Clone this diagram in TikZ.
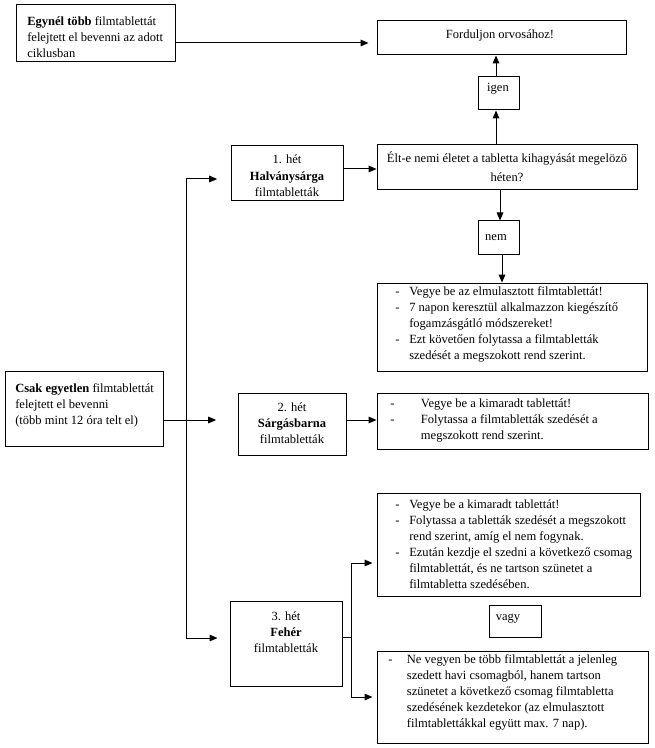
\documentclass[tikz,border=0pt]{standalone}
\usepackage{fontspec}
\setmainfont{Liberation Serif}
\usetikzlibrary{arrows.meta,fit}
\begin{document}
\begin{tikzpicture}[x=0.75pt,y=-0.75pt,
  box/.style={draw, line width=0.75pt, inner sep=0pt},
  txt/.style={inner sep=0pt, font=\fontsize{9.4}{12}\selectfont, align=center},
  ltxt/.style={txt, align=left, anchor=west},
  arr/.style={line width=0.75pt, -{Triangle[length=6pt,width=5pt]}},
  ln/.style={line width=0.75pt}]
\useasboundingbox (0,0) rectangle (655,748);
% boxes
\node[box, fit={(16,5)(175,62)}] (a) {};
\node[box, fit={(377,21)(626,55)}] (f) {};
\node[box, fit={(478,77)(519,110)}] (ig) {};
\node[box, fit={(377,145)(637,190)}] (q) {};
\node[box, fit={(231,146)(343,201)}] (w1) {};
\node[box, fit={(478,221)(519,255)}] (nm) {};
\node[box, fit={(377,283)(647,371)}] (b1) {};
\node[box, fit={(5,371)(163,446)}] (c) {};
\node[box, fit={(238,393)(346,455)}] (w2) {};
\node[box, fit={(377,393)(648,449)}] (b2) {};
\node[box, fit={(377,493)(640,596)}] (b3) {};
\node[box, fit={(230,601)(342,686)}] (w3) {};
\node[box, fit={(489,605)(541,637)}] (vg) {};
\node[box, fit={(377,651)(648,743)}] (b4) {};
% texts
\node[ltxt] (at) at (27,37) {\textbf{Egynél több} filmtablettát\\felejtett el bevenni az adott\\ciklusban};
\node[txt] (ft) at (500,35) {Forduljon orvosához!};
\node[txt] (igt) at (498,89) {igen};
\node[txt, font=\fontsize{9.4}{14}\selectfont] (qt) at (507,167) {Élt-e nemi életet a tabletta kihagyását megelözö\\héten?};
\node[txt, font=\fontsize{9.4}{12.5}\selectfont] (w1t) at (287,176) {1. hét\\\textbf{Halványsárga}\\filmtabletták};
\node[txt] (nmt) at (496,238) {nem};
\node[ltxt] (b1t) at (395,324) {\begin{tabular}{@{}p{10.5pt}@{}l@{}}
-&Vegye be az elmulasztott filmtablettát!\\
-&7 napon keresztül alkalmazzon kiegészítő\\
&fogamzásgátló módszereket!\\
-&Ezt követően folytassa a filmtabletták\\
&szedését a megszokott rend szerint.
\end{tabular}};
\node[ltxt] (ct) at (15,405) {\textbf{Csak egyetlen} filmtablettát\\felejtett el bevenni\\(több mint 12 óra telt el)};
\node[txt] (w2t) at (292,423) {2. hét\\\textbf{Sárgásbarna}\\filmtabletták};
\node[ltxt] (b2t) at (390,420) {\begin{tabular}{@{}p{23pt}@{}l@{}}
-&Vegye be a kimaradt tablettát!\\
-&Folytassa a filmtabletták szedését a\\
&megszokott rend szerint.
\end{tabular}};
\node[ltxt] (b3t) at (395,545) {\begin{tabular}{@{}p{10.5pt}@{}l@{}}
-&Vegye be a kimaradt tablettát!\\
-&Folytassa a tabletták szedését a megszokott\\
&rend szerint, amíg el nem fogynak.\\
-&Ezután kezdje el szedni a következő csomag\\
&filmtablettát, és ne tartson szünetet a\\
&filmtabletta szedésében.
\end{tabular}};
\node[txt] (w3t) at (286,632) {3. hét\\\textbf{Fehér}\\filmtabletták};
\node[txt] (vgt) at (508,619) {vagy};
\node[ltxt] (b4t) at (388,692) {\begin{tabular}{@{}p{14pt}@{}l@{}}
-&Ne vegyen be több filmtablettát a jelenleg\\
&szedett havi csomagból, hanem tartson\\
&szünetet a következő csomag filmtabletta\\
&szedésének kezdetekor (az elmulasztott\\
&filmtablettákkal együtt max. 7 nap).
\end{tabular}};
% helper coordinates
\coordinate (ya) at (0,43);
\coordinate (xq) at (496,0);
\coordinate (xn) at (500,0);
\coordinate (xb) at (502,0);
\coordinate (y1) at (0,169);
\coordinate (yc) at (0,420);
\coordinate (vt) at (186,179);
\coordinate (vb) at (186,638);
\coordinate (br) at (351,637);
\coordinate (bt) at (351,563);
\coordinate (bb) at (351,697);
% connectors
\draw[arr, shorten >=6pt] (a.east |- ya) -- (f.west |- ya);
\draw[arr] (xq |- q.north) -- (xq |- ig.south);
\draw[arr] (xq |- ig.north) -- (xq |- f.south);
\draw[arr] (w1.east |- y1) -- (q.west |- y1);
\draw[arr] (xn |- q.south) -- (xn |- nm.north);
\draw[arr] (xb |- nm.south) -- (xb |- b1.north);
\draw[ln] (vt) -- (vb);
\draw[arr, shorten >=10pt] (vt) -- (vt -| w1.west);
\draw[arr, shorten >=9pt] (vb) -- (vb -| w3.west);
\draw[arr, shorten >=16pt] (c.east |- yc) -- (w2.west |- yc);
\draw[arr] (w2.east |- yc) -- (b2.west |- yc);
\draw[ln] (w3.east |- br) -- (br);
\draw[ln] (bt) -- (bb);
\draw[arr, shorten >=3pt] (bt) -- (bt -| b3.west);
\draw[arr, shorten >=3pt] (bb) -- (bb -| b4.west);
\end{tikzpicture}
\end{document}
